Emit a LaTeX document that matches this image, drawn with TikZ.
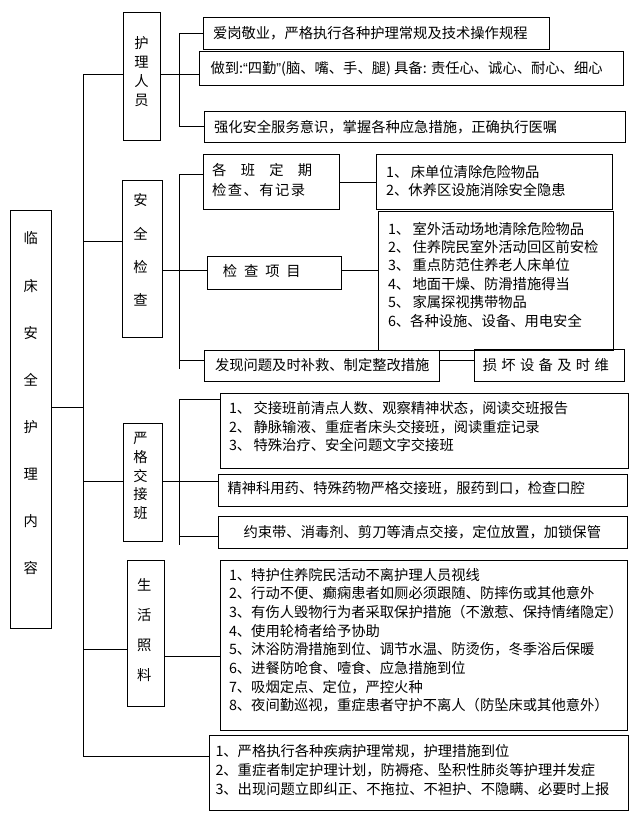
\documentclass[tikz,border=0pt]{standalone}
\usepackage{fontspec}
\setmainfont{Noto Sans CJK SC}
\newfontfamily\quotefont{Liberation Sans}
\usepackage{tikz}

\newcommand{\vfnt}[1]{\fontsize{14.3}{#1}\selectfont}

\begin{document}
\begin{tikzpicture}[x=1pt, y=-1pt, line width=1pt,
  every node/.style={inner sep=0pt, outer sep=0pt},
  box/.style={draw, anchor=north west},
  txt/.style={anchor=west, align=left, font=\vfnt{18.4}},
  vtxt/.style={align=center}]
\useasboundingbox (0,0) rectangle (642,821);

% left column
\node[box, minimum width=41pt, minimum height=417.6pt] (main) at (10.2,210.7) {};
\node[box, minimum width=37.7pt, minimum height=128pt] (staff) at (123,12.3) {};
\node[box, minimum width=40pt, minimum height=156pt] (check) at (122,181) {};
\node[box, minimum width=39.3pt, minimum height=118pt] (shift) at (123.4,423.3) {};
\node[box, minimum width=36.9pt, minimum height=146.7pt] (care) at (127.9,560) {};

\node[vtxt, font=\vfnt{47.1}] (main-t) at (30.7,403.3) {临\\床\\安\\全\\护\\理\\内\\容};
\node[vtxt, font=\vfnt{19.1}] (staff-t) at (141.4,71.4) {护\\理\\人\\员};
\node[vtxt, font=\vfnt{33.3}] (check-t) at (140.6,250) {安\\全\\检\\查};
\node[vtxt, font=\vfnt{18.75}] (shift-t) at (140.6,476) {严\\格\\交\\接\\班};
\node[vtxt, font=\vfnt{30}] (care-t) at (144.3,630) {生\\活\\照\\料};

% right column
\node[box, minimum width=345.3pt, minimum height=32pt] (staffA) at (203.7,17.3) {};
\node[box, minimum width=424.8pt, minimum height=34pt] (staffB) at (199,51.3) {};
\node[box, minimum width=421.8pt, minimum height=30.6pt] (staffC) at (204,111.7) {};
\node[box, minimum width=135.8pt, minimum height=54.3pt] (checkA) at (203.5,155) {};
\node[box, minimum width=235.5pt, minimum height=54.3pt] (checkAL) at (376.5,155) {};
\node[box, minimum width=134.2pt, minimum height=33.3pt] (checkB) at (207,256) {};
\node[box, minimum width=235.5pt, minimum height=139.3pt] (checkBL) at (378,211) {};
\node[box, minimum width=235.5pt, minimum height=31.3pt] (checkC) at (204,350) {};
\node[box, minimum width=149.5pt, minimum height=31.8pt] (checkCL) at (474.5,349.5) {};
\node[box, minimum width=408pt, minimum height=75pt] (shiftA) at (220,393.3) {};
\node[box, minimum width=408.6pt, minimum height=32pt] (shiftB) at (218.4,474.3) {};
\node[box, minimum width=408.6pt, minimum height=32.3pt] (shiftC) at (218.4,516) {};
\node[box, minimum width=407pt, minimum height=170pt] (careL) at (220,560) {};
\node[box, minimum width=418.5pt, minimum height=74.3pt] (rules) at (209.5,735.7) {};

\node[txt] (staffA-t) at (213,33.3) {爱岗敬业，严格执行各种护理常规及技术操作规程};
\node[txt] (staffB-t) at (210.5,69) {做到:{\quotefont “}四勤{\quotefont ”}(脑、嘴、手、腿) 具备: 责任心、诚心、耐心、细心};
\node[txt] (staffC-t) at (214,127) {强化安全服务意识，掌握各种应急措施，正确执行医嘱};
\node[txt, font=\vfnt{20}] (checkA-t) at (212.2,180) {\makebox[100pt][s]{各\hfill 班\hfill 定\hfill 期}\\\makebox[93pt][s]{检\hfill 查\hfill 、\hfill 有\hfill 记\hfill 录}};
\node[txt, font=\vfnt{18.3}] (checkAL-t) at (386.2,180.8) {1、\,床单位清除危险物品\\2、休养区设施消除安全隐患};
\node[txt] (checkB-t) at (222.8,271) {\makebox[78pt][s]{检\hfill 查\hfill 项\hfill 目}};
\node[txt, font=\vfnt{18.4}] (checkBL-t) at (388,274.6) {1、\,室外活动场地清除危险物品\\2、\,住养院民室外活动回区前安检\\3、\,重点防范住养老人床单位\\4、\,地面干燥、防滑措施得当\\5、\,家属探视携带物品\\6、各种设施、设备、用电安全};
\node[txt] (checkC-t) at (215,365.5) {发现问题及时补救、制定整改措施};
\node[txt] (checkCL-t) at (482.8,365.5) {\makebox[126pt][s]{损\hfill 坏\hfill 设\hfill 备\hfill 及\hfill 时\hfill 维}};
\node[txt, font=\vfnt{18.35}] (shiftA-t) at (229,426.7) {1、\,交接班前清点人数、观察精神状态，阅读交班报告\\2、\,静脉输液、重症者床头交接班，阅读重症记录\\3、\,特殊治疗、安全问题文字交接班};
\node[txt] (shiftB-t) at (227.5,488.3) {精神科用药、特殊药物严格交接班，服药到口，检查口腔};
\node[txt, anchor=center] (shiftC-t) at (422.3,531.7) {约束带、消毒剂、剪刀等清点交接，定位放置，加锁保管};
\node[txt, font=\vfnt{18.67}] (careL-t) at (229,640.3) {1、特护住养院民活动不离护理人员视线\\2、行动不便、癫痫患者如厕必须跟随、防摔伤或其他意外\\3、有伤人毁物行为者采取保护措施（不激惹、保持情绪隐定）\\4、使用轮椅者给予协助\\5、沐浴防滑措施到位、调节水温、防烫伤，冬季浴后保暖\\6、进餐防呛食、噎食、应急措施到位\\7、吸烟定点、定位，严控火种\\8、夜间勤巡视，重症患者守护不离人（防坠床或其他意外）};
\node[txt, font=\vfnt{19.15}] (rules-t) at (215.5,770.2) {1、严格执行各种疾病护理常规，护理措施到位\\2、重症者制定护理计划，防褥疮、坠积性肺炎等护理并发症\\3、出现问题立即纠正、不拖拉、不袒护、不隐瞒、必要时上报};

% trunk
\coordinate (t1) at (83,74.5);
\coordinate (t2) at (83,241);
\coordinate (t3) at (83,407.3);
\coordinate (t4) at (83,481);
\coordinate (t5) at (83,649.3);
\coordinate (t6) at (83,756);
\draw (t1) -- (t6);
\draw (t1) -- (t1 -| staff.west);
\draw (t2) -- (t2 -| check.west);
\draw (t3 -| main.east) -- (t3);
\draw (t4) -- (t4 -| shift.west);
\draw (t5) -- (t5 -| care.west);
\draw (t6) -- (t6 -| rules.west);

% staff branch
\coordinate (s1) at (179.5,33.3);
\coordinate (s2) at (179.5,127);
\draw (s1) -- (s2);
\draw (s1) -- (staffA.west);
\draw (s2) -- (staffC.west);
\draw (t1 -| staff.east) -- (t1 -| staffB.west);

% check branch
\coordinate (c1) at (179.5,174.3);
\coordinate (c2) at (179.5,270);
\coordinate (c3) at (179.5,360);
\coordinate (c4) at (179.5,369);
\draw (c1) -- (c4);
\draw (c1) -- (c1 -| checkA.west);
\draw (checkA) -- (checkAL);
\draw (c2 -| check.east) -- (c2 -| checkB.west);
\draw (c2 -| checkB.east) -- (c2 -| checkBL.west);
\draw (c3) -- (c3 -| checkC.west);
\draw (c3 -| checkC.east) -- (c3 -| checkCL.west);

% shift branch
\coordinate (h1) at (179.5,399.3);
\coordinate (h2) at (179.5,481);
\coordinate (h3) at (179.5,536.7);
\coordinate (h4) at (179.5,545);
\draw (h1) -- (h4);
\draw (h1) -- (h1 -| shiftA.west);
\draw (h2 -| shift.east) -- (h2 -| shiftB.west);
\draw (h3) -- (h3 -| shiftC.west);

% care branch
\coordinate (l1) at (170,656.7);
\draw (l1 -| care.east) -- (l1 -| careL.west);
\end{tikzpicture}
\end{document}
